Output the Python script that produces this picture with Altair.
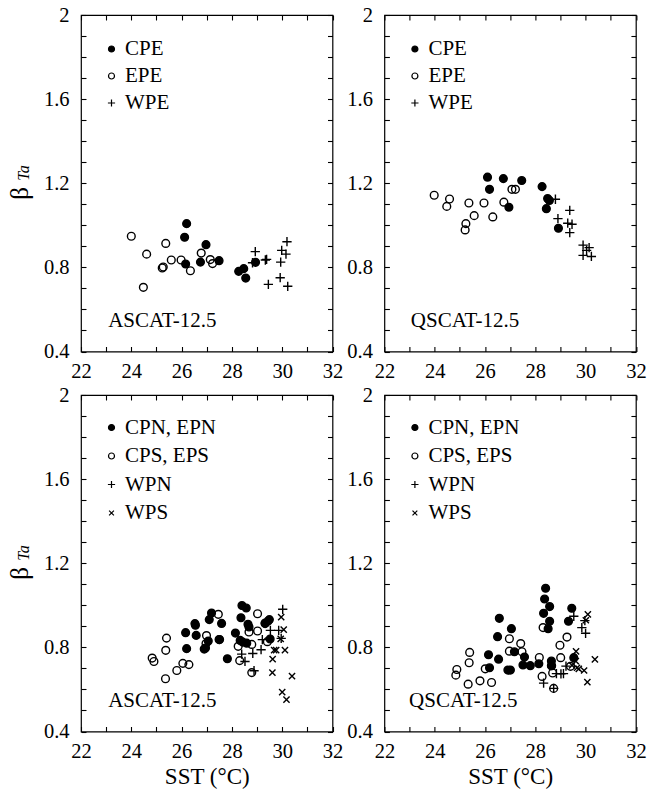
import altair as alt
import pandas as pd

FONT = "Liberation Serif"

# ---------------- Top-left: ASCAT-12.5, equatorial ----------------
a_eq_cpe_sst = [26.20, 26.12, 26.97, 26.16, 26.75, 27.49, 28.27, 28.47, 28.55, 28.94]
a_eq_cpe_beta = [1.008, 0.943, 0.908, 0.816, 0.825, 0.832, 0.781, 0.794, 0.749, 0.824]
a_eq_epe_sst = [24.00, 24.61, 25.37, 25.23, 25.27, 25.59, 25.98, 26.35, 26.78, 27.14, 27.23, 24.48]
a_eq_epe_beta = [0.948, 0.863, 0.914, 0.797, 0.802, 0.835, 0.835, 0.784, 0.868, 0.837, 0.818, 0.705]
a_eq_wpe_sst = [28.93, 28.82, 29.38, 29.33, 29.98, 30.19, 30.15, 29.94, 29.92, 29.45, 30.22]
a_eq_wpe_beta = [0.875, 0.822, 0.838, 0.835, 0.881, 0.922, 0.863, 0.825, 0.751, 0.719, 0.710]

# ---------------- Top-right: QSCAT-12.5, equatorial ----------------
q_eq_cpe_sst = [26.10, 26.73, 27.46, 26.18, 28.27, 28.49, 28.56, 28.44, 26.95, 28.92]
q_eq_cpe_beta = [1.229, 1.222, 1.213, 1.171, 1.184, 1.127, 1.118, 1.079, 1.086, 0.986]
q_eq_epe_sst = [23.98, 24.59, 24.48, 25.36, 25.96, 26.75, 25.57, 26.31, 25.24, 25.21, 27.07, 27.21]
q_eq_epe_beta = [1.143, 1.125, 1.090, 1.106, 1.106, 1.110, 1.046, 1.040, 1.008, 0.978, 1.171, 1.171]
q_eq_wpe_sst = [28.80, 29.37, 28.90, 29.29, 29.46, 29.37, 29.90, 30.14, 30.04, 29.90, 30.23]
q_eq_wpe_beta = [1.124, 1.071, 1.032, 1.010, 1.005, 0.965, 0.906, 0.894, 0.881, 0.857, 0.852]

# ---------------- Bottom-left: ASCAT-12.5, off-equatorial ----------------
a_off_n_sst = [28.40, 28.57, 27.19, 27.10, 26.53, 26.55, 27.59, 28.36, 28.64, 28.68, 26.16, 26.58, 28.14,
               27.51, 27.06, 26.95, 26.90, 26.20, 27.82, 28.33, 28.43, 28.59, 29.44, 29.49, 29.32, 29.52]
a_off_n_beta = [0.999, 0.987, 0.963, 0.932, 0.913, 0.905, 0.914, 0.941, 0.910, 0.897, 0.870, 0.857, 0.868,
                0.837, 0.830, 0.797, 0.792, 0.794, 0.746, 0.833, 0.825, 0.820, 0.925, 0.932, 0.913, 0.840]
a_off_s_sst = [25.40, 25.37, 24.83, 24.90, 25.36, 25.81, 26.05, 26.29, 26.99, 26.97, 27.46, 27.49, 29.02,
               29.32, 29.02, 28.68, 28.79, 28.25, 28.31, 28.79, 29.41]
a_off_s_beta = [0.844, 0.786, 0.749, 0.733, 0.651, 0.690, 0.724, 0.718, 0.856, 0.818, 0.957, 0.837, 0.960,
                0.916, 0.878, 0.873, 0.814, 0.805, 0.737, 0.680, 0.827]
a_wpn_sst = [30.02, 29.53, 29.86, 29.96, 29.21, 29.16, 28.83, 28.39, 28.52, 28.88]
a_wpn_beta = [0.981, 0.881, 0.881, 0.843, 0.837, 0.789, 0.771, 0.768, 0.733, 0.689]
a_wps_sst = [29.96, 30.06, 29.94, 29.68, 29.76, 30.11, 29.62, 29.61, 30.39, 30.00, 30.17]
a_wps_beta = [0.944, 0.884, 0.840, 0.787, 0.787, 0.787, 0.744, 0.680, 0.663, 0.587, 0.552]

# ---------------- Bottom-right: QSCAT-12.5, off-equatorial ----------------
q_off_n_sst = [28.41, 28.37, 28.57, 28.33, 28.57, 28.51, 29.45, 29.32, 26.57, 27.05, 26.50, 27.17, 26.14,
               26.54, 27.57, 26.18, 26.91, 27.01, 27.51, 27.80, 28.14, 28.64, 28.64, 29.53]
q_off_n_beta = [1.081, 1.030, 0.994, 0.962, 0.924, 0.889, 0.986, 0.924, 0.938, 0.889, 0.851, 0.779, 0.765,
                0.744, 0.754, 0.703, 0.692, 0.692, 0.716, 0.713, 0.722, 0.735, 0.713, 0.751]
q_off_s_sst = [25.39, 25.37, 24.88, 24.84, 25.33, 25.80, 26.26, 26.01, 26.97, 26.97, 27.42, 27.47, 28.31,
               28.16, 29.26, 28.98, 29.01, 28.65, 28.69, 28.27, 29.40, 28.73]
q_off_s_beta = [0.776, 0.727, 0.695, 0.668, 0.625, 0.641, 0.633, 0.698, 0.841, 0.782, 0.818, 0.779, 0.894,
                0.752, 0.849, 0.810, 0.751, 0.713, 0.678, 0.662, 0.710, 0.605]
q_wpn_sst = [29.53, 29.85, 30.00, 29.97, 29.22, 29.12, 28.84, 28.33, 29.02, 28.73]
q_wpn_beta = [0.948, 0.894, 0.867, 0.927, 0.711, 0.675, 0.675, 0.630, 0.674, 0.605]
q_wps_sst = [30.09, 30.01, 29.62, 29.61, 30.37, 29.66, 29.94, 30.07, 29.46, 29.73]
q_wps_beta = [0.957, 0.929, 0.781, 0.735, 0.743, 0.703, 0.690, 0.635, 0.714, 0.698]

eq_groups = ["CPE", "EPE", "WPE"]
off_groups = ["CPN, EPN", "CPS, EPS", "WPN", "WPS"]

x_ticks = list(range(22, 33))
y_ticks = [round(0.4 + 0.1 * i, 1) for i in range(17)]

PLUS = "M-1.2,0L1.2,0M0,-1.2L0,1.2"
CROSS = "M-0.8,-0.8L0.8,0.8M-0.8,0.8L0.8,-0.8"
SHAPES = ["circle", "circle", PLUS, CROSS]
FILLS = ["black", "transparent", "transparent", "transparent"]
STROKES = ["black", "black", "black", "black"]

W, H = 251.5, 336.5
XS = alt.Scale(domain=[22, 32], nice=False, zero=False)
YS = alt.Scale(domain=[0.4, 2.0], nice=False, zero=False)

common_axis = dict(offset=-5, tickSize=5, tickWidth=1.1, tickColor="black", domain=False, grid=False)


def make_panel(series, domain, label, label_x, left, bottom, row_pad, legend_y):
    rows = []
    for name, xs, ys in series:
        for a, b in zip(xs, ys):
            rows.append({"sst": a, "beta": b, "group": name})
    df = pd.DataFrame(rows)
    n = len(domain)

    legend = alt.Legend(orient="none", legendX=20, legendY=legend_y, title=None,
                        labelFont=FONT, labelFontSize=21, labelColor="black",
                        symbolSize=36, symbolStrokeColor="black", symbolStrokeWidth=1.2,
                        rowPadding=row_pad, labelOffset=3, padding=0)

    x_axis = alt.Axis(values=x_ticks, labelExpr="datum.value % 2 == 0 ? '' + datum.value : ''",
                      labelFont=FONT, labelFontSize=20.5, labelColor="black", labelPadding=10,
                      labelFlush=False, labelOverlap=False,
                      titleFont=FONT, titleFontSize=23, titleFontWeight="normal", titleColor="black",
                      titlePadding=3.5, **common_axis)
    y_kw = dict(values=y_ticks,
                labelExpr="round(datum.value * 10) % 4 == 0 ? '' + datum.value : ''",
                labelFont=FONT, labelFontSize=20.5, labelColor="black", labelPadding=12,
                labelFlush=False, labelOverlap=False, **common_axis)
    if left:
        y_kw.update(titleFont=FONT, titleFontSize=25, titleFontWeight="normal", titleColor="black",
                    titleAngle=270, titleAlign="center", titleBaseline="middle",
                    titleX=-67, titleY=178)
    y_axis = alt.Axis(**y_kw)
    x_top = alt.Axis(orient="top", values=x_ticks, labels=False, **common_axis)
    y_right = alt.Axis(orient="right", values=y_ticks, labels=False, **common_axis)

    pts = alt.Chart(df).mark_point(size=60, opacity=1, strokeWidth=1.4).encode(
        x=alt.X("sst:Q", scale=XS, axis=x_axis, title=("SST (°C)" if bottom else None)),
        y=alt.Y("beta:Q", scale=YS, axis=y_axis, title=("β" if left else None)),
        shape=alt.Shape("group:N", scale=alt.Scale(domain=domain, range=SHAPES[:n]), legend=legend),
        fill=alt.Fill("group:N", scale=alt.Scale(domain=domain, range=FILLS[:n]), legend=legend),
        stroke=alt.Stroke("group:N", scale=alt.Scale(domain=domain, range=STROKES[:n]), legend=legend),
    )

    lab_df = pd.DataFrame({"sst": [label_x], "beta": [0.545], "text": [label]})
    txt = alt.Chart(lab_df).mark_text(align="left", baseline="middle", font=FONT, fontSize=21,
                                      color="black").encode(
        x=alt.X("sst:Q", scale=XS, axis=x_top, title=None),
        y=alt.Y("beta:Q", scale=YS, axis=y_right, title=None),
        text="text:N",
    )
    layers = [pts, txt]
    if left:
        sub = alt.Chart(lab_df).mark_text(text="Ta", font=FONT, fontSize=16, fontStyle="italic",
                                          align="center", baseline="middle", color="black",
                                          angle=270).encode(
            x=alt.value(-57), y=alt.value(158))
        layers += [sub]
    return alt.layer(*layers).resolve_axis(x="independent", y="independent").properties(width=W, height=H)


p1 = make_panel([("CPE", a_eq_cpe_sst, a_eq_cpe_beta), ("EPE", a_eq_epe_sst, a_eq_epe_beta),
                 ("WPE", a_eq_wpe_sst, a_eq_wpe_beta)], eq_groups, "ASCAT-12.5", 23.08, True, False, 5, 23.5)
p2 = make_panel([("CPE", q_eq_cpe_sst, q_eq_cpe_beta), ("EPE", q_eq_epe_sst, q_eq_epe_beta),
                 ("WPE", q_eq_wpe_sst, q_eq_wpe_beta)], eq_groups, "QSCAT-12.5", 23.05, False, False, 5, 23.5)
p3 = make_panel([("CPN, EPN", a_off_n_sst, a_off_n_beta), ("CPS, EPS", a_off_s_sst, a_off_s_beta),
                 ("WPN", a_wpn_sst, a_wpn_beta), ("WPS", a_wps_sst, a_wps_beta)],
                off_groups, "ASCAT-12.5", 23.08, True, True, 6.5, 22)
p4 = make_panel([("CPN, EPN", q_off_n_sst, q_off_n_beta), ("CPS, EPS", q_off_s_sst, q_off_s_beta),
                 ("WPN", q_wpn_sst, q_wpn_beta), ("WPS", q_wps_sst, q_wps_beta)],
                off_groups, "QSCAT-12.5", 22.98, False, True, 6.5, 22)

chart = alt.concat(p1, p2, p3, p4, columns=2, spacing={"row": 43, "column": 51.4}, bounds="flush").resolve_scale(
    shape="independent", fill="independent", stroke="independent"
).properties(
    padding={"left": 6, "top": 4, "right": 0, "bottom": 0}, background="white"
).configure_view(stroke="black", strokeWidth=1.2)

chart.save("out.html", embed_options={"renderer": "svg", "actions": False})
